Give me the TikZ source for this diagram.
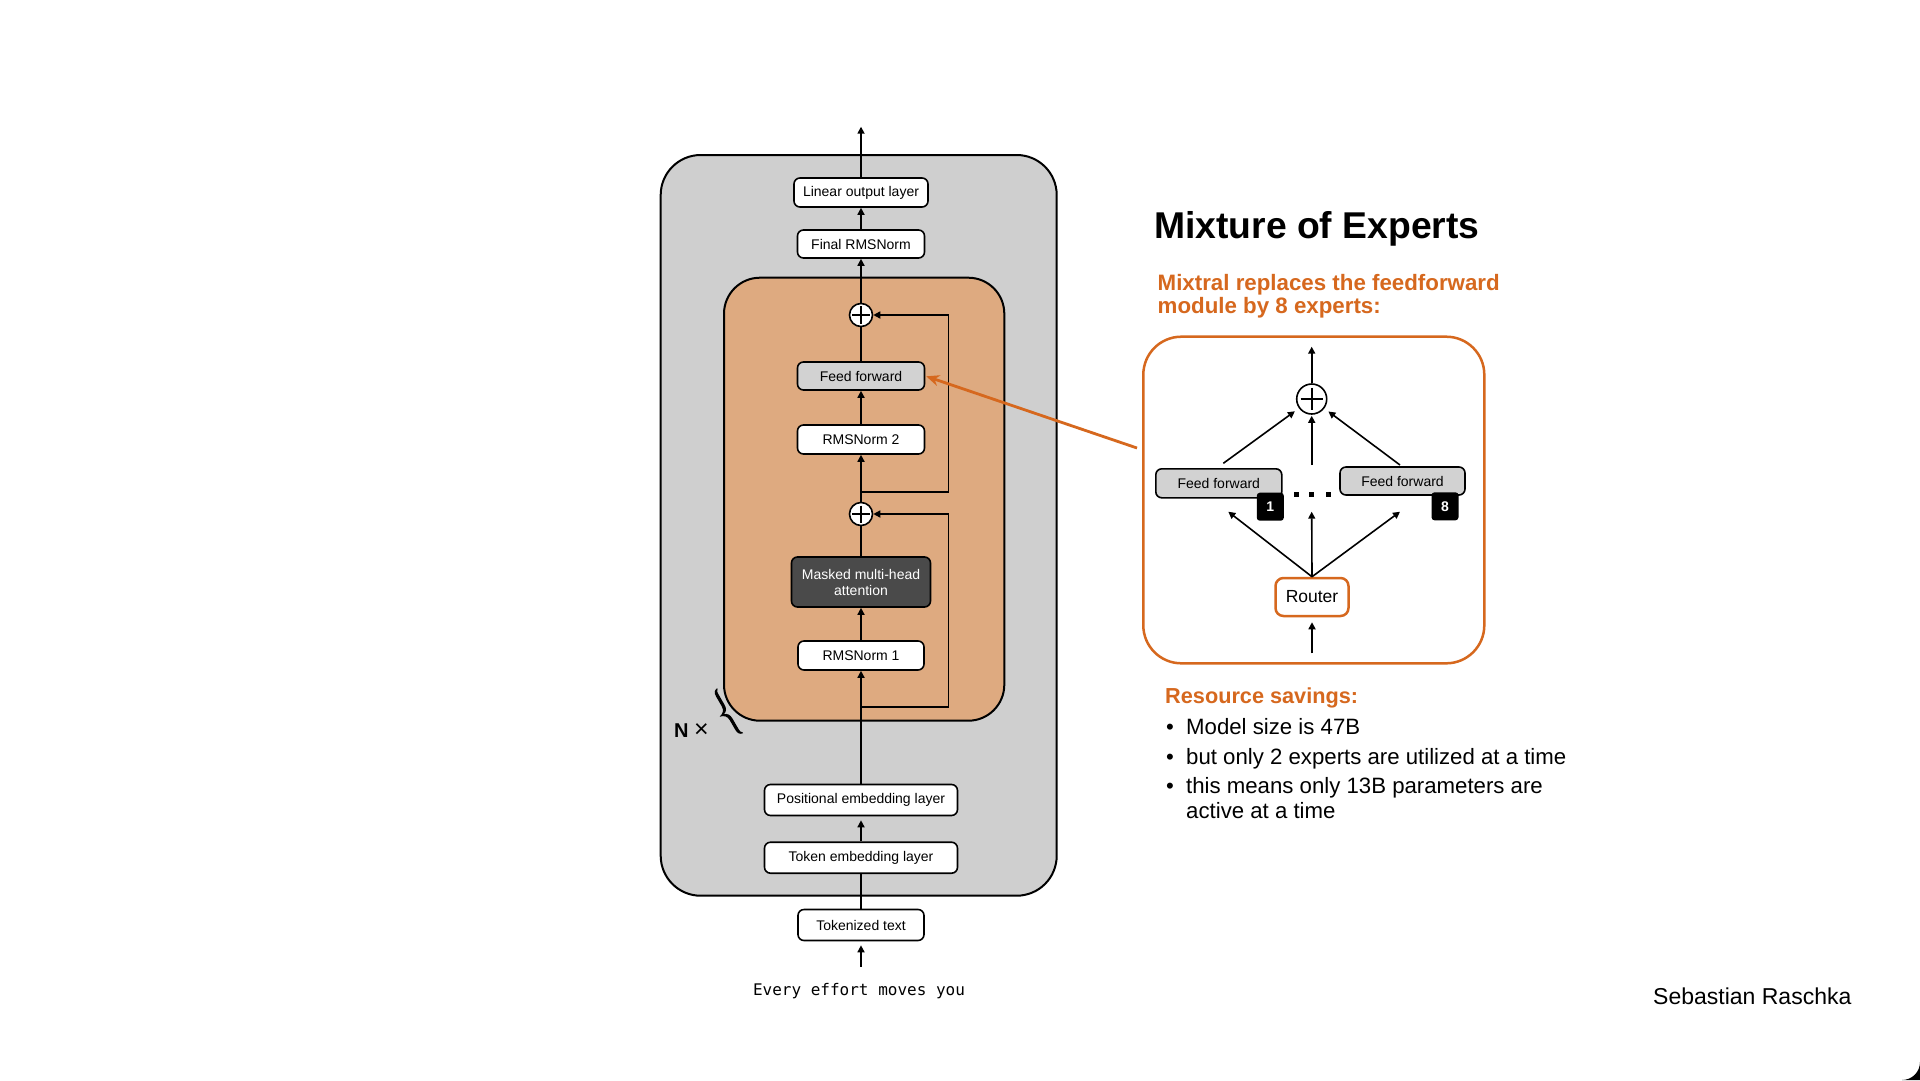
\documentclass[tikz,border=0pt]{standalone}
\usepackage{fontspec}
\setmainfont{Liberation Sans}
\newfontfamily\monofont{DejaVu Sans Mono}
\usetikzlibrary{arrows.meta,calc}
\definecolor{outergrey}{RGB}{207,207,207}
\definecolor{orangefill}{RGB}{222,170,128}
\definecolor{ffgrey}{RGB}{210,210,210}
\definecolor{darkbox}{RGB}{74,74,74}
\definecolor{orangeline}{RGB}{214,104,30}
\begin{document}
\begin{tikzpicture}[x=1pt,y=-1pt,
  blk/.style={draw, line width=1.6pt, rounded corners=6pt, fill=white, inner sep=0pt,
    font=\fontsize{14}{16}\selectfont, align=center},
  ffblk/.style={blk, fill=ffgrey},
  badge/.style={fill=black, rounded corners=3pt, text=white, inner sep=0pt,
    minimum width=27pt, minimum height=28pt, font=\fontsize{14}{16}\selectfont\bfseries},
  plussum/.style={circle, draw, fill=white, line width=1.6pt, minimum size=#1, inner sep=0pt,
    path picture={\draw[line width=1.6pt]
      ($(path picture bounding box.center)!0.74!(path picture bounding box.north)$) --
      ($(path picture bounding box.center)!0.74!(path picture bounding box.south)$)
      ($(path picture bounding box.center)!0.74!(path picture bounding box.west)$) --
      ($(path picture bounding box.center)!0.74!(path picture bounding box.east)$);}},
  arr/.style={line width=1.6pt, -{Triangle[length=7pt,width=7pt]}},
  ln/.style={line width=1.6pt},
  oarr/.style={draw=orangeline, line width=2.8pt, -{Stealth[length=13pt,width=11pt]}},
  txt/.style={anchor=base west, inner sep=0pt},
]
\useasboundingbox (0,0) rectangle (1920,1080);
\fill[white] (0,0) rectangle (1920,1080);
\fill[black] (1920,1062) -- (1920,1080) -- (1902,1080) .. controls (1912,1080) and (1920,1072) .. (1920,1062) -- cycle;

% outer and block frames
\draw[line width=2pt, fill=outergrey, rounded corners=40pt] (660.7,155) rectangle (1056.7,895.7);
\draw[line width=2pt, fill=orangefill, rounded corners=36pt] (724,277.7) rectangle (1004.3,720.7);

% left chain
\node[blk, minimum width=134pt, minimum height=29pt] (lin) at (861,192.5) {Linear output layer};
\node[blk, minimum width=127pt, minimum height=28pt] (frms) at (861,244) {Final RMSNorm};
\node[plussum=23pt] (p1) at (861,315) {};
\node[ffblk, minimum width=127pt, minimum height=28pt] (ff) at (861,376) {Feed forward};
\node[blk, minimum width=127pt, minimum height=29pt] (rms2) at (861,439.5) {RMSNorm 2};
\node[plussum=23pt] (p2) at (861,514) {};
\node[blk, fill=darkbox, text=white, minimum width=139pt, minimum height=50pt] (mha) at (861,582) {Masked multi-head\\attention};
\node[blk, minimum width=126pt, minimum height=29pt] (rms1) at (861,655.5) {RMSNorm 1};
\node[blk, minimum width=193pt, minimum height=31pt] (pos) at (861,800) {Positional embedding layer};
\node[blk, minimum width=193pt, minimum height=31pt] (tok) at (861,857.7) {Token embedding layer};
\node[blk, minimum width=126pt, minimum height=31pt] (tt) at (861,925) {Tokenized text};
\node[anchor=base, inner sep=0pt, font=\monofont\fontsize{16}{18}\selectfont] (inp) at (859,995.7) {Every effort moves you};

\coordinate (top) at (861,126.7);
\coordinate (ein) at (861,966.7);
\coordinate (s1) at (861,491.7);
\coordinate (c1) at (948.3,491.7);
\coordinate (s2) at (861,706.7);
\coordinate (c2) at (948.3,706.7);

\draw[arr] (lin) -- (top);
\draw[arr] (frms) -- (lin);
\draw[arr] (p1) -- (frms);
\draw[ln] (ff) -- (p1);
\draw[arr] (rms2) -- (ff);
\draw[arr] (p2) -- (rms2);
\draw[ln] (mha) -- (p2);
\draw[arr] (rms1) -- (mha);
\draw[arr] (pos) -- (rms1);
\draw[arr, shorten >=4pt] (tok) -- (pos);
\draw[ln] (tt) -- (tok);
\draw[arr, shorten >=4pt] (ein) -- (tt);
\draw[arr] (s1) -- (c1) |- (p1);
\draw[arr] (s2) -- (c2) |- (p2);

% N x brace
\node[txt, font=\fontsize{20}{22}\selectfont\bfseries] (nx) at (674,737) {N};
\node[txt, font=\fontsize{25}{26}\selectfont] (times) at (694,737) {×};
\begin{scope}[shift={(725.7,713.2)}, rotate=30]
  \fill (5,-26) .. controls (1.5,-25.5) and (0,-23.5) .. (0,-19) -- (0,-8)
     .. controls (0,-3.5) and (-2.5,-1) .. (-7,0)
     .. controls (-2.5,1) and (0,3.5) .. (0,8) -- (0,19)
     .. controls (0,23.5) and (1.5,25.5) .. (5,26)
     -- (5,25) .. controls (3.5,24.5) and (3.2,22.5) .. (3.2,19) -- (3.2,8)
     .. controls (3.2,3.5) and (1.5,1) .. (-2,0)
     .. controls (1.5,-1) and (3.2,-3.5) .. (3.2,-8) -- (3.2,-19)
     .. controls (3.2,-22.5) and (3.5,-24.5) .. (5,-25) -- cycle;
\end{scope}

% right texts
\node[txt, font=\fontsize{37.3}{40}\selectfont\bfseries] (title) at (1154,238) {Mixture of Experts};
\node[txt, text=orangeline, font=\fontsize{22.3}{24}\selectfont\bfseries] (sub1) at (1157.5,290) {Mixtral replaces the feedforward};
\node[txt, text=orangeline, font=\fontsize{22.3}{24}\selectfont\bfseries] (sub2) at (1157.5,313) {module by 8 experts:};

% MoE panel
\draw[draw=orangeline, line width=2.5pt, rounded corners=38pt] (1143.3,336.7) rectangle (1484.3,663.3);
\node[plussum=30pt] (pm) at (1311.7,399) {};
\node[ffblk, minimum width=126pt, minimum height=29pt] (ff1) at (1218.8,483.3) {Feed forward};
\node[badge] (b1) at (1270.3,506.7) {1};
\node[ffblk, minimum width=125pt, minimum height=28pt] (ff8) at (1402.5,481) {Feed forward};
\node[badge] (b8) at (1445,506.3) {8};
\fill (1294.2,491.5) rectangle ++(5,5);
\fill (1309.2,491.5) rectangle ++(5,5);
\fill (1325.8,491.5) rectangle ++(5,5);
\node[blk, draw=orangeline, line width=2.5pt, rounded corners=8pt, minimum width=73pt, minimum height=38pt, font=\fontsize{17.5}{19}\selectfont] (router) at (1312,597) {Router};

\coordinate (mtop) at (1311.7,346.7);
\coordinate (u1) at (1223.3,463.3);
\coordinate (u2) at (1311.7,465);
\coordinate (u3) at (1400,465);
\coordinate (r1) at (1228.3,511.7);
\coordinate (r2) at (1311.7,511.7);
\coordinate (r3) at (1400,511.7);
\coordinate (min) at (1312,653.3);

\draw[arr] (pm) -- (mtop);
\draw[arr, shorten >=5pt] (u1) -- (pm);
\draw[arr, shorten >=1pt] (u2) -- (pm);
\draw[arr, shorten >=5pt] (u3) -- (pm);
\draw[arr] (router.north) -- (r1);
\draw[arr] (router.north) -- (r2);
\draw[arr] (router.north) -- (r3);
\draw[arr, shorten >=5pt] (min) -- (router);

% orange pointer
\coordinate (oa) at (1137,448);
\draw[oarr, shorten >=1pt] (oa) -- (ff.east);

% resource savings
\node[txt, text=orangeline, font=\fontsize{21.7}{24}\selectfont\bfseries] (res) at (1165,703) {Resource savings:};
\begin{scope}[every node/.style={font=\fontsize{22.2}{26}\selectfont}]
\node[anchor=base, inner sep=0pt] (d1) at (1170,734) {•};
\node[txt] (l1) at (1186,734) {Model size is 47B};
\node[anchor=base, inner sep=0pt] (d2) at (1170,764) {•};
\node[txt] (l2) at (1186,764) {but only 2 experts are utilized at a time};
\node[anchor=base, inner sep=0pt] (d3) at (1170,793.5) {•};
\node[txt] (l3) at (1186,793.5) {this means only 13B parameters are};
\node[txt] (l4) at (1186,818.5) {active at a time};
\end{scope}

\node[txt, font=\fontsize{23}{26}\selectfont] (auth) at (1653,1004) {Sebastian Raschka};
\end{tikzpicture}
\end{document}
